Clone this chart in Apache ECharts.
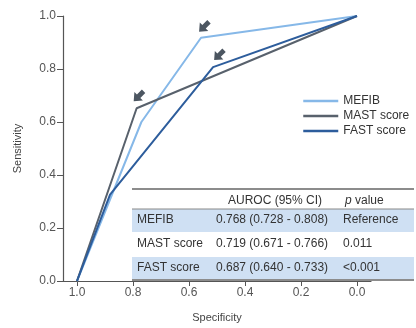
<!DOCTYPE html>
<html>
<head>
<meta charset="utf-8">
<script src="https://cdn.jsdelivr.net/npm/echarts@6/dist/echarts.min.js"></script>
<style>
  html, body { margin: 0; padding: 0; background: #fff; }
  #main { width: 416px; height: 328px; }
</style>
</head>
<body>
<div id="main"></div>
<script>
// ROC points as [specificity, sensitivity]
var mefib = [[1, 0], [0.77, 0.6], [0.557, 0.918], [0, 1]];
var mast = [[1, 0], [0.787, 0.652], [0, 1]];
var fast = [[1, 0], [0.882, 0.326], [0.514, 0.807], [0, 1]];
var tickValues = [0, 0.2, 0.4, 0.6, 0.8, 1.0];

// table contents
var tableHeader = ['', 'AUROC (95% CI)', '{i|p} value'];
var tableNames = ['MEFIB', 'MAST score', 'FAST score'];
var tableAuroc = ['0.768 (0.728 - 0.808)', '0.719 (0.671 - 0.766)', '0.687 (0.640 - 0.733)'];
var tableP = ['Reference', '0.011', '<0.001'];

var fontFam = '"Liberation Sans", Arial, sans-serif';
var arrowPath = 'path://M5,0 L10,5.5 L7,5.5 L7,11 L3,11 L3,5.5 L0,5.5 Z';

function arrowMark(pt, off) {
  return {
    symbol: arrowPath,
    symbolSize: [12, 14],
    symbolRotate: 135,
    symbolOffset: off,
    itemStyle: { color: '#4c5661' },
    label: { show: false },
    data: [{ coord: pt }]
  };
}

var myChart = echarts.init(document.getElementById('main'));

// table graphics
var colX = [137, 216, 343];
var rowY = [220, 244, 268];
var g = [];
g.push({ type: 'rect', shape: { x: 132, y: 209, width: 282, height: 23 }, style: { fill: '#cfe0f3' } });
g.push({ type: 'rect', shape: { x: 132, y: 257, width: 282, height: 22 }, style: { fill: '#cfe0f3' } });
g.push({ type: 'line', shape: { x1: 132, y1: 189, x2: 414, y2: 189 }, style: { stroke: '#666', lineWidth: 1.5 } });
g.push({ type: 'line', shape: { x1: 132, y1: 209, x2: 414, y2: 209 }, style: { stroke: '#888', lineWidth: 1 } });
g.push({ type: 'line', shape: { x1: 132, y1: 280, x2: 414, y2: 280 }, style: { stroke: '#666', lineWidth: 1.5 } });
g.push({ type: 'text', x: 228, y: 201, style: { text: tableHeader[1], font: '12px ' + fontFam, fill: '#333', verticalAlign: 'middle' } });
g.push({ type: 'text', x: 345, y: 201, style: { text: tableHeader[2], font: '12px ' + fontFam, fill: '#333', verticalAlign: 'middle',
  rich: { i: { fontStyle: 'italic', fontSize: 12, fontFamily: fontFam, fill: '#333' } } } });
for (var r = 0; r < 3; r++) {
  g.push({ type: 'text', x: colX[0], y: rowY[r], style: { text: tableNames[r], font: '12px ' + fontFam, fill: '#333', verticalAlign: 'middle' } });
  g.push({ type: 'text', x: colX[1], y: rowY[r], style: { text: tableAuroc[r], font: '12px ' + fontFam, fill: '#333', verticalAlign: 'middle' } });
  g.push({ type: 'text', x: colX[2], y: rowY[r], style: { text: tableP[r], font: '12px ' + fontFam, fill: '#333', verticalAlign: 'middle' } });
}

var option = {
  animation: false,
  textStyle: { fontFamily: fontFam },
  grid: { left: 63, right: 45, top: 16, bottom: 42 },
  legend: {
    orient: 'vertical',
    left: 302,
    top: 95,
    padding: 0,
    itemWidth: 35,
    itemHeight: 14,
    itemGap: 3,
    itemStyle: { opacity: 0 },
    lineStyle: { width: 2.5 },
    textStyle: { fontSize: 12, color: '#333', fontFamily: fontFam },
    data: ['MEFIB', 'MAST score', 'FAST score']
  },
  xAxis: {
    type: 'value',
    inverse: true,
    min: -0.05,
    max: 1.05,
    name: 'Specificity',
    nameLocation: 'middle',
    nameGap: 31,
    nameTextStyle: { fontSize: 11, color: '#444' },
    axisLine: { onZero: false, lineStyle: { color: '#555', width: 1.2 } },
    axisTick: { length: 5, customValues: tickValues, lineStyle: { color: '#555' } },
    axisLabel: { customValues: tickValues, margin: 6, fontSize: 12, color: '#555',
      formatter: function (v) { return v.toFixed(1); } },
    splitLine: { show: false }
  },
  yAxis: {
    type: 'value',
    min: 0,
    max: 1,
    interval: 0.2,
    name: 'Sensitivity',
    nameLocation: 'middle',
    nameGap: 40,
    nameTextStyle: { fontSize: 11, color: '#444' },
    axisLine: { show: true, onZero: false, lineStyle: { color: '#555', width: 1.2 } },
    axisTick: { show: true, length: 6, lineStyle: { color: '#555' } },
    axisLabel: { margin: 7, fontSize: 12, color: '#555',
      formatter: function (v) { return v.toFixed(1); } },
    splitLine: { show: false }
  },
  series: [
    {
      name: 'MEFIB', type: 'line', data: mefib, symbol: 'none',
      lineStyle: { color: '#86b8e8', width: 2 }, itemStyle: { color: '#86b8e8' },
      markPoint: arrowMark(mefib[2], [3, -11])
    },
    {
      name: 'MAST score', type: 'line', data: mast, symbol: 'none',
      lineStyle: { color: '#58616c', width: 2 }, itemStyle: { color: '#58616c' },
      markPoint: arrowMark(mast[1], [2, -12])
    },
    {
      name: 'FAST score', type: 'line', data: fast, symbol: 'none',
      lineStyle: { color: '#2d5d9c', width: 2 }, itemStyle: { color: '#2d5d9c' },
      markPoint: arrowMark(fast[2], [6, -12])
    }
  ],
  graphic: g
};

myChart.setOption(option);
</script>
</body>
</html>
